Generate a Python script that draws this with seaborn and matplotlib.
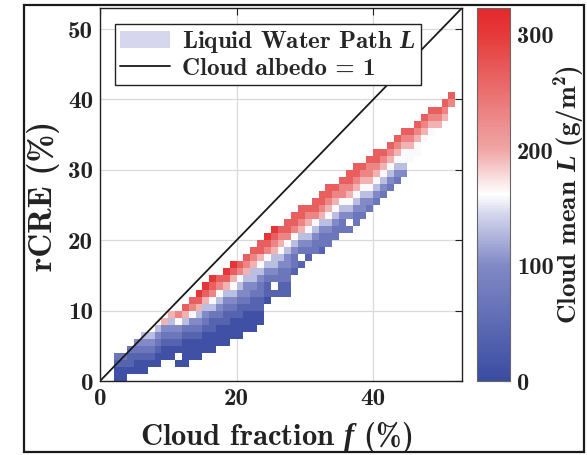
import numpy as np
import matplotlib
matplotlib.use("Agg")
import matplotlib.pyplot as plt
import seaborn as sns
from matplotlib.colors import LinearSegmentedColormap
from matplotlib.patches import Patch, Rectangle
from matplotlib.lines import Line2D

# ---------------- data ----------------
# cloud-fraction bins (1 % wide, left edge) that hold data
f_bins = list(range(2, 52))
# lowest rCRE bin (1 % wide, lower edge) occupied in each f column
r_bottom = [0, 0, 1, 1, 1, 2, 2, 3, 3, 2,
            2, 3, 3, 4, 4, 5, 5, 6, 6, 7,
            7, 8, 11, 12, 12, 12, 15, 16, 17, 18,
            18, 19, 20, 21, 21, 22, 23, 24, 25, 26,
            27, 28, 29, 31, 32, 34, 35, 36, 37, 39]
# colour level of each cell, bottom to top ('.' = empty cell)
level_strings = [
    "0012", "0012", "0112", "00123", "001234", "01234", "001234", "001236",
    "0012346", "0.012357", "000012468", "000123578", "0001234689",
    "0001234689", "00011245789", "0001234578", "00011234689",
    "00012345689", "00011234578", "00012334678", "000112344678",
    "001122345688", "0112345789", "1.23446789", "1122345678",
    "11223345788", "122345788", "1.2346788", "12345678", "22345788",
    "122346788", "223456788", "22345678", "22345778", "2.3456788",
    "223456788", "23345678", "23456778", "23456788", "2345678",
    "2345678", "2345678", "3455678", "55678", "55678", "5678", "5678",
    "678", "678", "78",
]
# cloud mean liquid water path (g/m^2) of each colour level
level_L = [10, 40, 70, 100, 130, 160, 195, 230, 265, 305]

x_ticks = [0, 20, 40]
y_ticks = [0, 10, 20, 30, 40, 50]
cbar_ticks = [0, 100, 200, 300]
L_max = 323
axis_max = 53
cloud_albedo = 1.0

# ---------------- build the binned grid ----------------
grid = np.full((axis_max, axis_max), np.nan)
for f, bot, s in zip(f_bins, r_bottom, level_strings):
    for k, ch in enumerate(s):
        if ch != '.':
            grid[bot + k, f] = level_L[int(ch)]

sns.set_theme(style="white")
plt.rcParams['font.family'] = ['cmb10', 'DejaVu Serif']
plt.rcParams['mathtext.fontset'] = 'custom'
plt.rcParams['mathtext.rm'] = 'cmb10'
plt.rcParams['mathtext.it'] = 'Liberation Serif:italic:bold'
plt.rcParams['mathtext.bf'] = 'cmb10'
plt.rcParams['axes.unicode_minus'] = False

fig = plt.figure(figsize=(5.87, 4.55), dpi=100)
ax = fig.add_axes([100/587, (455-381)/455, 362/587, 373/455])
cax = fig.add_axes([477/587, (455-381)/455, 33/587, 373/455])

cmap = LinearSegmentedColormap.from_list(
    'bwr_matlab',
    [(0.0, '#3a4ca2'), (0.31, '#8189c6'), (0.45, '#d6d8ee'), (0.5, '#ffffff'),
     (0.56, '#f7d4d4'), (0.62, '#f0a6a6'), (0.93, '#e53a3a'), (1.0, '#e4282a')])

sns.heatmap(grid, ax=ax, cbar_ax=cax, cmap=cmap, vmin=0, vmax=L_max,
            xticklabels=False, yticklabels=False)
ax.set_xlim(0, axis_max)
ax.set_ylim(0, axis_max)

for sp in ax.spines.values():
    sp.set_visible(True)
    sp.set_color('#222222')
    sp.set_linewidth(1.0)

ax.set_axisbelow(True)
ax.grid(True, color='#dadada', lw=0.9)

# cloud albedo = 1 line
f_line = np.array([0, axis_max])
ax.plot(f_line, cloud_albedo * f_line, color='k', lw=1.3)

ax.set_xticks(x_ticks)
ax.set_xticklabels([str(t) for t in x_ticks])
ax.set_yticks(y_ticks)
ax.set_yticklabels([str(t) for t in y_ticks])
ax.tick_params(direction='in', top=True, right=True, length=5, width=0.8,
               labelsize=18, pad=5, colors='#222222', labelcolor='#222222')

ax.set_xlabel('Cloud fraction $f$ (%)', fontsize=22, color='#222222')
ax.xaxis.set_label_coords(0.486, -0.15)
ax.xaxis.label.set_va('center')
ax.set_ylabel('rCRE (%)', fontsize=24, color='#222222')
ax.yaxis.set_label_coords(-0.155, 0.496)
ax.yaxis.label.set_va('center')
ax.yaxis.label.set_ha('center')

cb = ax.collections[0].colorbar
cb.set_ticks(cbar_ticks)
cb.set_ticklabels([str(t) for t in cbar_ticks])
cb.outline.set_edgecolor('#666666')
cb.outline.set_linewidth(0.8)
cax.tick_params(direction='in', length=4, width=0.8, labelsize=17.5,
                colors='#333333', labelcolor='#222222', pad=5)
cb.set_label('Cloud mean $L$ (g/m$^2$)', fontsize=19.5, color='#222222')
cax.yaxis.set_label_coords(2.82, 0.5)
cax.yaxis.label.set_va('center')
cax.yaxis.label.set_ha('center')

handles = [Patch(facecolor='#d6d7ee', edgecolor='none', label='Liquid Water Path $L$'),
           Line2D([0], [0], color='k', lw=1.3, label='Cloud albedo = 1')]
leg = ax.legend(handles=handles, loc='upper left', bbox_to_anchor=(0.041, 0.957),
                frameon=True, fancybox=False, edgecolor='#222222', framealpha=1,
                fontsize=18, borderpad=0.2, handlelength=2.0, labelspacing=0.08,
                handletextpad=0.5, borderaxespad=0)
leg.get_frame().set_linewidth(1.0)

fig.patches.append(Rectangle((24/587, 3/455), 560/587, 447/455,
                             transform=fig.transFigure, fill=False,
                             ec='k', lw=1.6))

fig.savefig('out.png', dpi=100)
